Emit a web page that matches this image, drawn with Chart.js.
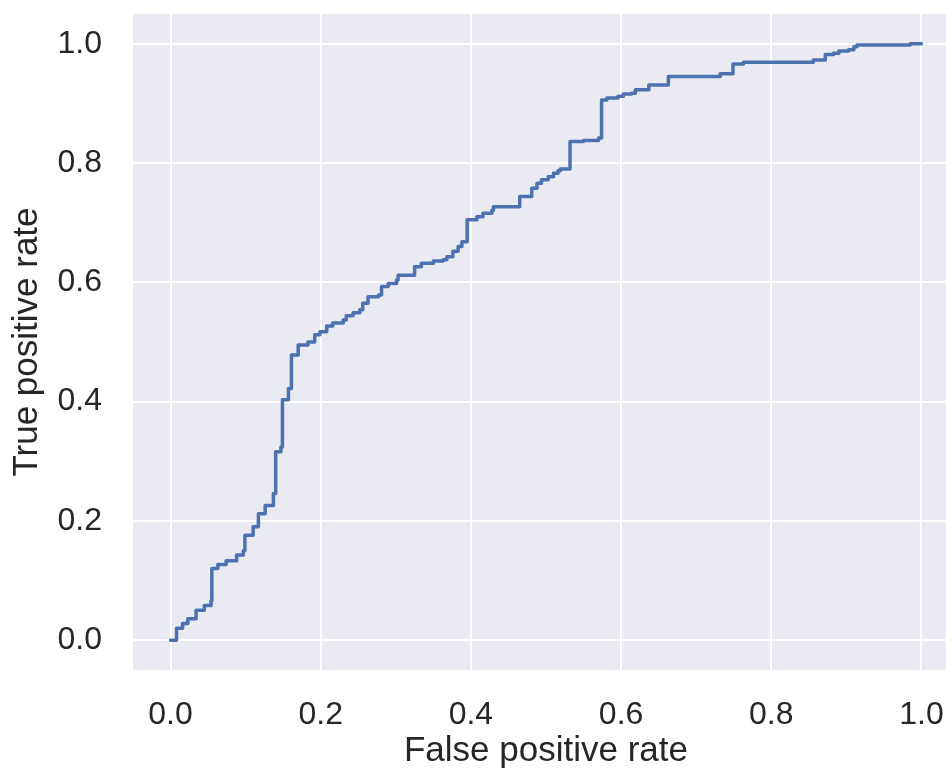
<!DOCTYPE html>
<html>
<head>
<meta charset="utf-8">
<script src="https://cdn.jsdelivr.net/npm/chart.js@4"></script>
<style>
    html, body { margin: 0; padding: 0; background: #ffffff; overflow: hidden; }
    canvas { display: block; }
</style>
</head>
<body>
<canvas id="rocChart" width="959" height="769"></canvas>
<script>
// ROC curve points (top of each step)
const fprValues = [0, 0.008, 0.016, 0.023, 0.034, 0.045, 0.054, 0.055, 0.063, 0.074, 0.088, 0.097, 0.099, 0.11, 0.117,
    0.126, 0.137, 0.14, 0.147, 0.149, 0.157, 0.161, 0.17, 0.183, 0.192, 0.199, 0.208, 0.216, 0.23, 0.234, 0.243,
    0.252, 0.256, 0.263, 0.277, 0.281, 0.29, 0.301, 0.303, 0.325, 0.334, 0.35, 0.363, 0.368, 0.376, 0.383, 0.388,
    0.395, 0.408, 0.416, 0.428, 0.43, 0.465, 0.481, 0.488, 0.494, 0.503, 0.51, 0.516, 0.519, 0.532, 0.55, 0.57,
    0.574, 0.581, 0.596, 0.603, 0.614, 0.619, 0.637, 0.663, 0.732, 0.749, 0.763, 0.856, 0.872, 0.883, 0.89,
    0.903, 0.91, 0.914, 0.985, 1.0];
const tprValues = [0, 0.02, 0.028, 0.036, 0.05, 0.058, 0.066, 0.12, 0.127, 0.133, 0.143, 0.15, 0.176, 0.19, 0.212,
    0.226, 0.246, 0.316, 0.324, 0.403, 0.422, 0.478, 0.495, 0.5, 0.512, 0.517, 0.527, 0.532, 0.537, 0.544, 0.549,
    0.554, 0.565, 0.576, 0.579, 0.593, 0.598, 0.604, 0.612, 0.626, 0.632, 0.636, 0.638, 0.643, 0.652, 0.66, 0.668,
    0.705, 0.71, 0.716, 0.721, 0.727, 0.744, 0.758, 0.766, 0.772, 0.777, 0.783, 0.787, 0.79, 0.836, 0.838, 0.842,
    0.906, 0.909, 0.912, 0.916, 0.917, 0.923, 0.931, 0.945, 0.95, 0.966, 0.969, 0.973, 0.982, 0.984, 0.988,
    0.99, 0.995, 0.998, 1.0, 1.0];

const xTicks = [0, 0.2, 0.4, 0.6, 0.8, 1.0];
const yTicks = [0, 0.2, 0.4, 0.6, 0.8, 1.0];

const xTitle = 'False positive rate';
const yTitle = 'True positive rate';

const points = fprValues.map((x, i) => ({ x: x, y: tprValues[i] }));

// seaborn-like grey plot background
const plotBackground = {
    id: 'plotBackground',
    beforeDraw(chart) {
        const { ctx, chartArea } = chart;
        ctx.save();
        ctx.fillStyle = '#EAEAF2';
        ctx.fillRect(chartArea.left, chartArea.top, chartArea.right - chartArea.left, chartArea.bottom - chartArea.top);
        ctx.restore();
    }
};

const fontFamily = "'Liberation Sans', Arial, sans-serif";
const textColor = '#262626';

new Chart(document.getElementById('rocChart'), {
    type: 'line',
    data: {
        datasets: [{
            data: points,
            borderColor: '#4C72B0',
            borderWidth: 3.5,
            borderJoinStyle: 'round',
            borderCapStyle: 'round',
            stepped: true,
            pointRadius: 0,
            fill: false
        }]
    },
    options: {
        responsive: false,
        animation: false,
        layout: { padding: { top: 14, left: 0, right: 0, bottom: 0 } },
        plugins: { legend: { display: false }, tooltip: { enabled: false } },
        scales: {
            x: {
                type: 'linear',
                min: -0.05,
                max: 1.05,
                afterBuildTicks: (scale) => { scale.ticks = xTicks.map(v => ({ value: v })); },
                afterFit: (scale) => {
                    scale.height = 99;
                    scale.paddingLeft = 0;
                    scale.paddingRight = 0;
                },
                grid: { color: '#ffffff', lineWidth: 2, drawTicks: false },
                border: { display: false },
                ticks: {
                    padding: 26,
                    color: textColor,
                    font: { family: fontFamily, size: 32 },
                    maxRotation: 0,
                    callback: (v) => Number(v).toFixed(1)
                },
                title: {
                    display: true,
                    text: xTitle,
                    color: textColor,
                    font: { family: fontFamily, size: 35, lineHeight: 1 },
                    padding: { top: 2, bottom: 0 }
                }
            },
            y: {
                type: 'linear',
                min: -0.05,
                max: 1.05,
                afterBuildTicks: (scale) => { scale.ticks = yTicks.map(v => ({ value: v })); },
                afterFit: (scale) => {
                    scale.width = 133;
                    scale.paddingTop = 0;
                    scale.paddingBottom = 0;
                },
                grid: { color: '#ffffff', lineWidth: 2, drawTicks: false },
                border: { display: false },
                ticks: {
                    padding: 31,
                    color: textColor,
                    font: { family: fontFamily, size: 32 },
                    callback: (v) => Number(v).toFixed(1)
                },
                title: {
                    display: true,
                    text: yTitle,
                    color: textColor,
                    font: { family: fontFamily, size: 35, lineHeight: 1 },
                    padding: { top: 10, bottom: 0 }
                }
            }
        }
    },
    plugins: [plotBackground]
});
</script>
</body>
</html>
